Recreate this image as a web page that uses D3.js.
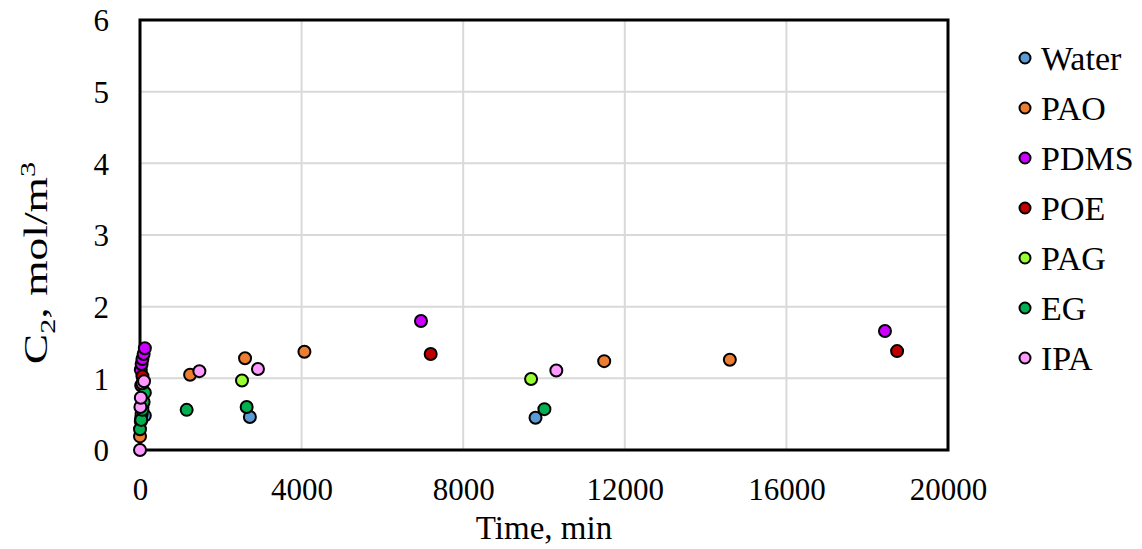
<!DOCTYPE html>
<html>
<head>
<meta charset="utf-8">
<script src="https://cdn.jsdelivr.net/npm/d3@7"></script>
<style>
  html, body { margin: 0; padding: 0; background: #fff; }
  svg { display: block; font-family: "Liberation Serif", "Times New Roman", serif; }
</style>
</head>
<body>
<svg id="chart" width="1142" height="549"></svg>
<script>
// Series names and marker fills
const seriesNames = ["Water", "PAO", "PDMS", "POE", "PAG", "EG", "IPA"];
const seriesColors = ["#5B9BD5", "#ED7D31", "#CC00FF", "#C00000", "#99FF33", "#00B050", "#FF99FF"];

// Time (min) and C2 (mol/m3) per fluid
const waterTime = [30, 60, 120, 2720, 9790];
const waterC2   = [0.45, 0.5, 0.48, 0.46, 0.45];

const paoTime = [0, 40, 1240, 2600, 4070, 11490, 14600];
const paoC2   = [0.19, 0.5, 1.05, 1.28, 1.37, 1.24, 1.26];

const pdmsTime = [20, 40, 60, 90, 120, 6955, 18440];
const pdmsC2   = [1.12, 1.2, 1.27, 1.34, 1.42, 1.80, 1.66];

const poeTime = [30, 60, 7195, 18740];
const poeC2   = [0.9, 1.03, 1.34, 1.38];

const pagTime = [20, 60, 2525, 9680];
const pagC2   = [0.4, 0.6, 0.97, 0.99];

const egTime = [0, 30, 60, 90, 120, 1155, 2640, 10010];
const egC2   = [0.29, 0.42, 0.56, 0.67, 0.8, 0.56, 0.6, 0.57];

const ipaTime = [0, 10, 20, 60, 100, 1470, 2920, 10305];
const ipaC2   = [0.0, 0.6, 0.73, 0.93, 0.96, 1.10, 1.13, 1.11];

const xTicks = [0, 4000, 8000, 12000, 16000, 20000];
const yTicks = [0, 1, 2, 3, 4, 5, 6];

const seriesTimes = [waterTime, paoTime, pdmsTime, poeTime, pagTime, egTime, ipaTime];
const seriesValues = [waterC2, paoC2, pdmsC2, poeC2, pagC2, egC2, ipaC2];

const series = seriesNames.map((name, i) => ({
  name,
  color: seriesColors[i],
  points: seriesTimes[i].map((t, j) => ({ t, c: seriesValues[i][j] }))
}));

const svg = d3.select("#chart");
const plot = { left: 140, right: 948, top: 20, bottom: 450 };

const x = d3.scaleLinear().domain([0, 20000]).range([plot.left, plot.right]);
const y = d3.scaleLinear().domain([0, 6]).range([plot.bottom, plot.top]);

// Gridlines
const grid = svg.append("g");
grid.selectAll("line.h").data(yTicks.filter(v => v > 0 && v < 6)).join("line")
  .attr("x1", plot.left).attr("x2", plot.right)
  .attr("y1", d => y(d)).attr("y2", d => y(d))
  .attr("stroke", "#d9d9d9").attr("stroke-width", 2);
grid.selectAll("line.v").data(xTicks.filter(v => v > 0 && v < 20000)).join("line")
  .attr("y1", plot.top).attr("y2", plot.bottom)
  .attr("x1", d => x(d)).attr("x2", d => x(d))
  .attr("stroke", "#d9d9d9").attr("stroke-width", 2);

// Axes (tick labels only)
const xAxis = svg.append("g")
  .attr("transform", `translate(0,${plot.bottom})`)
  .call(d3.axisBottom(x).tickValues(xTicks).tickSize(0).tickPadding(30).tickFormat(d3.format("d")));
const yAxis = svg.append("g")
  .attr("transform", `translate(${plot.left},0)`)
  .call(d3.axisLeft(y).tickValues(yTicks).tickSize(0).tickPadding(31).tickFormat(d3.format("d")));
[xAxis, yAxis].forEach(a => {
  a.select(".domain").remove();
  a.selectAll("text").attr("font-family", "Liberation Serif, Times New Roman, serif")
    .attr("font-size", 31).attr("fill", "#000");
});
xAxis.selectAll("text").attr("dy", "0.71em").attr("y", 28);
yAxis.selectAll("text").attr("dy", "0.35em");

// Frame
svg.append("rect")
  .attr("x", plot.left).attr("y", plot.top)
  .attr("width", plot.right - plot.left).attr("height", plot.bottom - plot.top)
  .attr("fill", "none").attr("stroke", "#000").attr("stroke-width", 3);

// Points
const marks = svg.append("g");
series.forEach(s => {
  marks.append("g").selectAll("circle").data(s.points).join("circle")
    .attr("cx", d => x(d.t)).attr("cy", d => y(d.c)).attr("r", 6)
    .attr("fill", s.color).attr("stroke", "#000").attr("stroke-width", 2);
});

// Axis titles
svg.append("text")
  .attr("x", (plot.left + plot.right) / 2).attr("y", 539)
  .attr("text-anchor", "middle").attr("font-size", 33)
  .text("Time, min");

// Vertical title, drawn elongated along its baseline
const yTitle = svg.append("text")
  .attr("transform", "translate(47,263) rotate(-90) scale(1.38,1)")
  .attr("text-anchor", "middle").attr("font-size", 33);
yTitle.append("tspan").text("C");
yTitle.append("tspan").attr("font-size", 22).attr("dy", 8).text("2");
yTitle.append("tspan").attr("dy", -8).text(", mol/m");
yTitle.append("tspan").attr("font-size", 22).attr("dy", -12).text("3");

// Legend
const legend = svg.append("g").attr("transform", "translate(1025,58)");
const rows = legend.selectAll("g").data(series).join("g")
  .attr("transform", (d, i) => `translate(0,${i * 50})`);
rows.append("circle").attr("r", 5.5)
  .attr("fill", d => d.color).attr("stroke", "#000").attr("stroke-width", 2);
rows.append("text").attr("x", 16).attr("dy", "0.35em")
  .attr("font-size", 34).text(d => d.name);
</script>
</body>
</html>
